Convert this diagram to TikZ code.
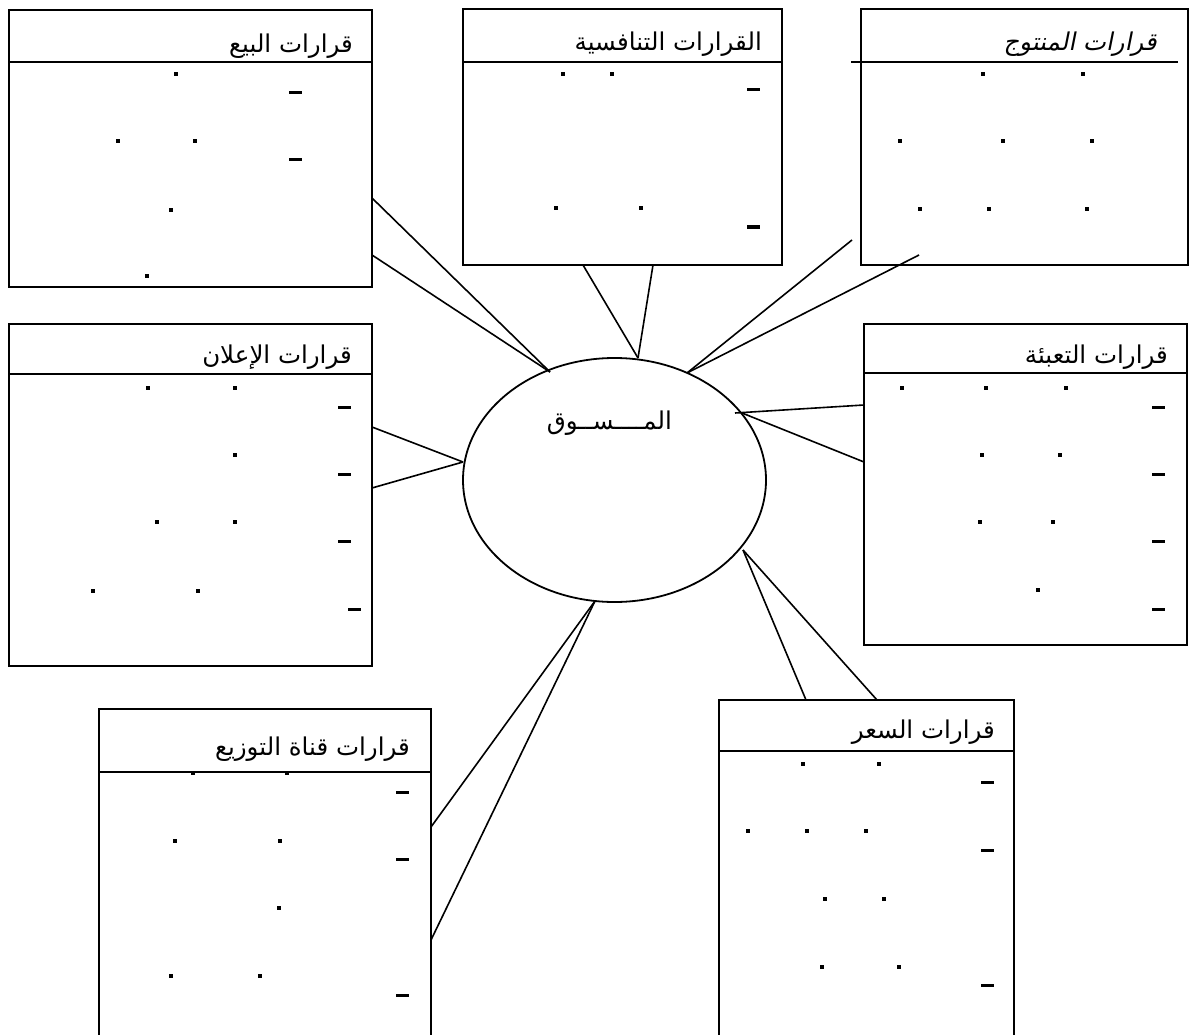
\documentclass[tikz,border=0pt]{standalone}
\usepackage{fontspec}
\usetikzlibrary{shapes.geometric}
\TeXXeTstate=1
\newfontfamily\arabicfont[Script=Arabic]{DejaVu Sans}
\newfontfamily\arabicit[Script=Arabic,FakeSlant=0.2]{DejaVu Sans}
\begin{document}
\begin{tikzpicture}[x=1pt,y=-1pt,
  box/.style={draw,line width=2pt,rectangle,inner sep=0pt},
  conn/.style={line width=1.6pt},
  divl/.style={line width=2pt},
  ttl/.style={anchor=base east,inner sep=0pt,font=\arabicfont\fontsize{24.5}{28}\selectfont},
  dashm/.style={fill=black,rectangle,inner sep=0pt,minimum width=13pt,minimum height=3pt},
  dotm/.style={fill=black,rectangle,inner sep=0pt,minimum size=3.6pt}]
\useasboundingbox (0,0) rectangle (1199,1035);
\clip (0,0) rectangle (1199,1035);
\fill[white] (0,0) rectangle (1199,1035);

% market ellipse
\node[draw,ellipse,line width=1.8pt,minimum width=303pt,minimum height=244pt,inner sep=0pt] (market) at (614.5,480) {};
\node[ttl] (marketT) at (672,429) {\beginR المــــســوق\endR};

% boxes
\node[box,minimum width=363pt,minimum height=277pt] (sale) at (190.5,148.5) {};
\node[box,minimum width=319pt,minimum height=256pt] (comp) at (622.5,137) {};
\node[box,minimum width=327pt,minimum height=256pt] (prod) at (1024.5,137) {};
\node[box,minimum width=363pt,minimum height=342pt] (adv) at (190.5,495) {};
\node[box,minimum width=323pt,minimum height=321pt] (pack) at (1025.5,484.5) {};
\node[box,minimum width=295pt,minimum height=360pt] (price) at (866.5,880) {};
\node[box,minimum width=332pt,minimum height=351pt] (dist) at (265,884.5) {};

% dividers
\draw[divl] (9,62) -- (372,62);
\draw[divl] (463,62) -- (782,62);
\draw[divl] (851,62) -- (1178,62);
\draw[divl] (9,374) -- (372,374);
\draw[divl] (864,373) -- (1187,373);
\draw[divl] (719,751) -- (1014,751);
\draw[divl] (99,772) -- (431,772);

% titles
\node[ttl] (saleT) at (353,53) {\beginR قرارات البيع\endR};
\node[ttl] (compT) at (762,51) {\beginR القرارات التنافسية\endR};
\node[ttl,font=\arabicit\fontsize{24.5}{28}\selectfont] (prodT) at (1157,51) {\beginR قرارات المنتوج\endR};
\node[ttl] (advT) at (352,363) {\beginR قرارات الإعلان\endR};
\node[ttl] (packT) at (1168,363) {\beginR قرارات التعبئة\endR};
\node[ttl] (priceT) at (995,738) {\beginR قرارات السعر\endR};
\node[ttl] (distT) at (410,755) {\beginR قرارات قناة التوزيع\endR};

% dashes
\foreach \p in {(295,93),(295,160),(753,90),(753,227),
  (344,407),(344,474),(344,541),(354,609),
  (1158,407),(1158,474),(1158,541),(1158,609),
  (987,782),(987,850),(987,985),
  (402,792),(402,859),(402,995)}
  \node[dashm] at \p {};

% dots
\foreach \p in {(176,74),(118,141),(195,141),(171,210),(147,276),
  (563,74),(612,74),(556,208),(641,208),
  (983,74),(1083,74),(900,141),(1003,141),(1092,141),(920,209),(989,209),(1087,209),
  (148,388),(235,388),(235,455),(157,522),(235,522),(93,591),(198,591),
  (902,388),(986,388),(1066,388),(982,455),(1060,455),(980,522),(1053,522),(1038,590),
  (803,764),(879,764),(748,831),(807,831),(866,831),(825,899),(884,899),(822,967),(899,967),
  (193,773),(287,773),(175,841),(280,841),(279,908),(171,976),(260,976)}
  \node[dotm] at \p {};

% connector endpoints
\coordinate (sA) at (372,198); \coordinate (sB) at (372,255); \coordinate (mS) at (550,372);
\coordinate (cA) at (583,265); \coordinate (cB) at (653,265); \coordinate (mC) at (638,358);
\coordinate (pA) at (852,240); \coordinate (pB) at (919,255); \coordinate (mP) at (687,373);
\coordinate (aA) at (372,427); \coordinate (aB) at (372,488); \coordinate (mA) at (463,462);
\coordinate (kA) at (864,405); \coordinate (kB) at (864,462); \coordinate (mK1) at (735,413); \coordinate (mK2) at (742,413);
\coordinate (rA) at (806,700); \coordinate (rB) at (877,700); \coordinate (mR) at (743,550);
\coordinate (dA) at (431,827); \coordinate (dB) at (431,940); \coordinate (mD) at (595,601);

\draw[conn] (sA) -- (mS); \draw[conn] (sB) -- (mS);
\draw[conn] (cA) -- (mC); \draw[conn] (cB) -- (mC);
\draw[conn] (pA) -- (mP); \draw[conn] (pB) -- (mP);
\draw[conn] (aA) -- (mA); \draw[conn] (aB) -- (mA);
\draw[conn] (kA) -- (mK1); \draw[conn] (kB) -- (mK2);
\draw[conn] (rA) -- (mR); \draw[conn] (rB) -- (mR);
\draw[conn] (dA) -- (mD); \draw[conn] (dB) -- (mD);
\end{tikzpicture}
\end{document}
